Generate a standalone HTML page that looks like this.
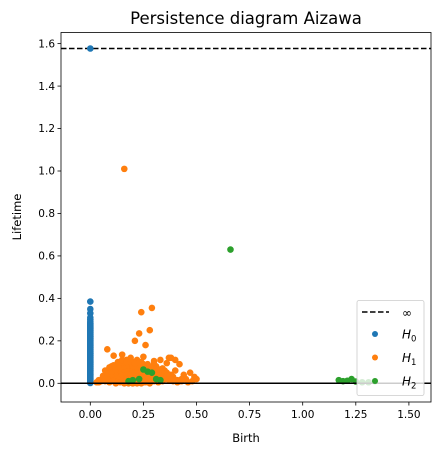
<!DOCTYPE html>
<html><head><meta charset="utf-8"><style>
body{margin:0;background:#fff;font-family:"Liberation Sans","DejaVu Sans",sans-serif}
svg text{font-family:"DejaVu Sans","Liberation Sans",sans-serif}
</style></head><body>
<svg id="chart" width="441" height="455" viewBox="0 0 441 455" xmlns="http://www.w3.org/2000/svg">
<rect width="441" height="455" fill="#fff"/>
<text x="246" y="24" font-size="16.5" text-anchor="middle">Persistence diagram Aizawa</text>
<g id="marks"></g>
<g id="axes"></g>
</svg>
<script>
const xTicks=[0,0.25,0.5,0.75,1,1.25,1.5];
const xTickLabels=["0.00","0.25","0.50","0.75","1.00","1.25","1.50"];
const yTicks=[0,0.2,0.4,0.6,0.8,1.0,1.2,1.4,1.6];
const yTickLabels=["0.0","0.2","0.4","0.6","0.8","1.0","1.2","1.4","1.6"];
const infValue=1.577;
const h0Birth=[0,0,0,0,0,0,0,0,0,0,0,0,0,0,0,0,0,0,0,0,0,0,0,0,0,0,0,0,0,0,0,0];
const h0Life=[1.577,0.385,0.35,0.33,0.31,0.3,0.29,0.28,0.27,0.26,0.25,0.24,0.23,0.22,0.21,0.2,0.19,0.18,0.17,0.16,0.15,0.14,0.13,0.12,0.11,0.1,0.09,0.08,0.07,0.06,0.04,0.02];
const h1Birth=[0.16,0.24,0.29,0.23,0.28,0.21,0.26,0.08,0.15,0.11,0.19,0.22,0.25,0.3,0.33,0.37,0.4,0.36,0.38,0.42,0.47,0.49,0.44,0.35,0.31,0.27,0.2,0.17,0.13,0.1,0.07,0.06,0.09,0.12,0.14,0.16,0.18,0.2,0.22,0.24,0.26,0.28,0.3,0.32,0.34,0.36,0.38,0.4,0.45,0.05,0.08,0.11,0.13,0.15,0.17,0.19,0.21,0.23,0.25,0.27,0.29,0.31,0.33,0.35,0.37,0.39,0.41,0.43,0.46,0.1,0.12,0.14,0.16,0.18,0.2,0.22,0.24,0.26,0.28,0.3,0.04,0.07,0.09,0.11,0.13,0.15,0.17,0.19,0.21,0.23,0.25,0.27,0.32,0.34,0.14,0.16,0.18,0.2,0.22,0.24,
0.03,0.05,0.07,0.09,0.11,0.13,0.15,0.17,0.19,0.21,0.23,0.25,0.27,0.29,0.31,0.33,0.35,0.37,0.39,0.41,
0.04,0.06,0.08,0.1,0.12,0.14,0.16,0.18,0.2,0.22,0.24,0.26,0.28,0.3,0.32,0.34,0.36,0.38,0.4,0.42,
0.06,0.08,0.1,0.12,0.14,0.16,0.18,0.2,0.22,0.24,0.26,0.28,0.3,0.32,0.34,0.36,
0.09,0.11,0.13,0.15,0.17,0.19,0.21,0.23,0.25,0.27,0.29,0.31,0.33,
0.12,0.14,0.16,0.18,0.2,0.22,0.24,0.26,0.28,0.15,0.17,0.19,0.21,0.23,0.25,0.18,0.2,0.22,0.43,0.48,0.5];
const h1Life=[1.01,0.335,0.355,0.235,0.25,0.2,0.18,0.16,0.135,0.13,0.12,0.11,0.125,0.105,0.11,0.12,0.11,0.095,0.12,0.09,0.05,0.03,0.04,0.06,0.08,0.09,0.1,0.11,0.1,0.08,0.06,0.03,0.05,0.07,0.09,0.085,0.095,0.075,0.09,0.1,0.08,0.07,0.09,0.06,0.07,0.05,0.04,0.06,0.02,0.01,0.02,0.04,0.06,0.05,0.07,0.06,0.05,0.07,0.06,0.04,0.05,0.03,0.04,0.03,0.02,0.03,0.015,0.01,0.005,0.01,0.025,0.03,0.02,0.04,0.03,0.045,0.035,0.02,0.03,0.01,0.005,0.01,0.005,0.015,0.01,0.02,0.015,0.01,0.02,0.015,0.005,0.01,0.005,0.01,0.055,0.065,0.075,0.06,0.05,0.07,
0.005,0.01,0.02,0.025,0.03,0.035,0.04,0.045,0.04,0.05,0.045,0.04,0.035,0.04,0.03,0.025,0.02,0.015,0.01,0.005,
0.015,0.02,0.03,0.04,0.05,0.06,0.065,0.07,0.065,0.06,0.055,0.05,0.045,0.04,0.035,0.03,0.025,0.02,0.015,0.01,
0.035,0.045,0.055,0.065,0.075,0.08,0.085,0.08,0.075,0.07,0.065,0.06,0.055,0.05,0.045,0.035,
0.075,0.085,0.095,0.1,0.105,0.1,0.095,0.09,0.085,0.08,0.075,0.07,0.065,
0.0,0.005,0.0,0.005,0.0,0.005,0.0,0.005,0.0,0.11,0.1,0.105,0.095,0.1,0.09,0.0,0.0,0.0,0.02,0.01,0.02];
const h2Birth=[0.66,0.25,0.27,0.29,0.18,0.2,0.23,0.31,0.33,1.17,1.19,1.21,1.23,1.25,1.28,1.31,1.34];
const h2Life=[0.63,0.065,0.055,0.05,0.01,0.015,0.02,0.02,0.015,0.015,0.01,0.012,0.02,0.008,0.005,0.005,0.01];

const L=61,R=431,T=32.5,B=402;
const xs=v=>90.3+v*212.4;
const ys=v=>383.3-v*212.3;
const NS="http://www.w3.org/2000/svg";
const marks=document.getElementById('marks'),axes=document.getElementById('axes');
function mk(p,tag,a){const e=document.createElementNS(NS,tag);for(const k in a)e.setAttribute(k,a[k]);p.appendChild(e);return e;}

let l=mk(marks,'line',{x1:L,x2:R,y1:ys(infValue),y2:ys(infValue),stroke:'#000','stroke-width':1.5,'stroke-dasharray':'5.5,2.5'});


function series(bs,ls,color,name){
  const g=mk(marks,'g',{});
  
  
  for(let i=0;i<bs.length;i++){
    const c=mk(g,'circle',{cx:xs(bs[i]),cy:ys(ls[i]),r:3.3,fill:color});
    
    
  }
  if(name==='h0-series'){const r=mk(g,'rect',{x:xs(0)-3.3,y:ys(0.3),width:6.6,height:ys(0)-ys(0.3)+3,rx:3.3,fill:color});
    
    }
}
series(h0Birth,h0Life,'#1f77b4','h0-series');
series(h1Birth,h1Life,'#ff7f0e','h1-series');
series(h2Birth,h2Life,'#2ca02c','h2-series');
l=mk(marks,'line',{x1:L,x2:R,y1:ys(0),y2:ys(0),stroke:'#000','stroke-width':1.5});



let f=mk(axes,'rect',{x:L,y:T,width:R-L,height:B-T,fill:'none',stroke:'#000','stroke-width':0.8});


xTicks.forEach((v,i)=>{
  const x=xs(v);
  let t=mk(axes,'line',{x1:x,x2:x,y1:B,y2:B+3.5,stroke:'#000','stroke-width':0.8});
  
  
  let tx=mk(axes,'text',{x:x,y:B+16,'font-size':10.5,'text-anchor':'middle'});
  tx.textContent=xTickLabels[i];
  
  
});
yTicks.forEach((v,i)=>{
  const y=ys(v);
  let t=mk(axes,'line',{x1:L-3.5,x2:L,y1:y,y2:y,stroke:'#000','stroke-width':0.8});
  
  
  let tx=mk(axes,'text',{x:L-6,y:y+3.7,'font-size':10.5,'text-anchor':'end'});
  tx.textContent=yTickLabels[i];
  
  
});
let xt=mk(axes,'text',{x:246,y:442,'font-size':11.5,'text-anchor':'middle'});xt.textContent='Birth';


let yt=mk(axes,'text',{x:21,y:217,'font-size':11.5,'text-anchor':'middle',transform:'rotate(-90 21 217)'});yt.textContent='Lifetime';



const lg=mk(axes,'g',{});


mk(lg,'rect',{x:357,y:300.5,width:67,height:95,rx:2,fill:'#fff','fill-opacity':0.8,stroke:'#ccc','stroke-width':0.8});
mk(lg,'line',{x1:362,x2:389,y1:312,y2:312,stroke:'#000','stroke-width':1.5,'stroke-dasharray':'5.5,2.5'});
let t=mk(lg,'text',{x:402,y:317,'font-size':12});t.textContent='∞';


[['#1f77b4','0'],['#ff7f0e','1'],['#2ca02c','2']].forEach((d,i)=>{
  const y=334+i*23.5;
  mk(lg,'circle',{cx:375,cy:y,r:3,fill:d[0]});
  const tx=mk(lg,'text',{x:402,y:y+4.5,'font-size':12,'font-style':'italic'});
  tx.innerHTML='H<tspan font-size="8.5" font-style="normal" dy="3">'+d[1]+'</tspan>';
  
  
});
</script>
</body></html>
